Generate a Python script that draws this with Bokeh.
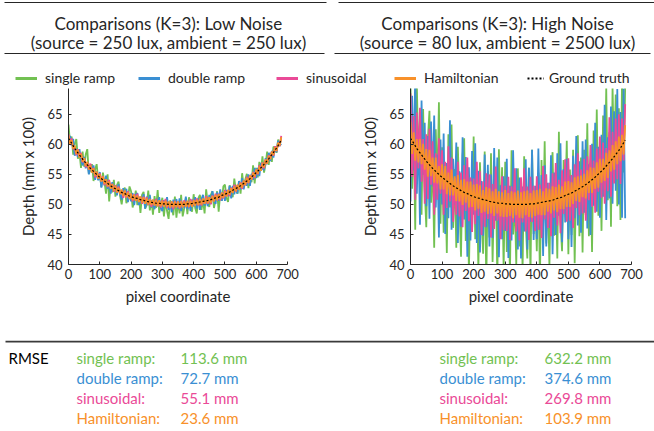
from bokeh.plotting import figure
from bokeh.models import Range1d, Legend, LegendItem, FixedTicker
from bokeh.layouts import column, row
from bokeh.embed import file_html
from bokeh.resources import INLINE
from bokeh.core.properties import value

FONT = "Lato"
INK = "#262626"
NAN = float("nan")

# ---------------- data ----------------
gt_pixel = list(range(0, 681, 10))
ground_truth = [61.0, 60.2, 59.3, 58.6, 57.9, 57.2, 56.6, 56.0, 55.5, 55.0,
                54.5, 54.1, 53.7, 53.3, 52.9, 52.6, 52.3, 52.0, 51.8, 51.5,
                51.3, 51.1, 51.0, 50.8, 50.7, 50.5, 50.4, 50.3, 50.2, 50.2,
                50.1, 50.1, 50.0, 50.0, 50.0, 50.0, 50.0, 50.0, 50.1, 50.1,
                50.2, 50.3, 50.4, 50.5, 50.6, 50.7, 50.9, 51.1, 51.2, 51.5,
                51.7, 51.9, 52.2, 52.5, 52.8, 53.1, 53.5, 53.9, 54.3, 54.8,
                55.3, 55.8, 56.4, 57.0, 57.6, 58.3, 59.0, 59.8, 60.7]

pixel = list(range(0, 681, 5))

low_single = [63.3, 60.2, 61.3, 58.3, 60.1, 60.9, 57.6, 58.6, 56.1, 58.8,
              56.3, 58.3, 59.2, 55.1, 55.7, 56.7, 53.9, 55.8, 56.7, 54.1,
              55.1, 52.9, 55.3, 53.7, 51.8, 55.0, 50.5, 53.5, 52.0, 54.1,
              51.3, 53.2, 53.8, 51.4, 50.0, 52.1, 52.8, 50.2, 51.1, 53.0,
              52.2, 49.5, 50.6, 52.3, 49.9, 51.3, 48.6, 51.6, 52.1, 49.3,
              49.9, 52.3, 49.0, 50.7, 48.3, 51.4, 49.4, 52.4, 48.6, 50.0,
              51.1, 48.0, 50.6, 48.9, 47.6, 50.7, 49.7, 48.2, 51.3, 47.8,
              50.4, 48.5, 51.6, 48.0, 49.4, 51.0, 48.4, 51.2, 49.7, 48.8,
              51.7, 49.4, 48.5, 51.0, 51.6, 49.1, 50.7, 48.5, 52.5, 50.2,
              49.6, 51.6, 52.2, 49.4, 50.8, 52.2, 48.8, 51.9, 50.6, 53.0,
              53.3, 51.1, 50.4, 53.2, 52.5, 51.2, 54.3, 52.3, 51.8, 53.9,
              51.8, 55.2, 52.9, 54.1, 55.1, 52.7, 54.9, 53.7, 56.5, 53.5,
              56.1, 54.5, 57.1, 55.6, 58.0, 55.3, 56.7, 58.8, 56.6, 58.6,
              57.1, 59.6, 59.5, 58.6, 60.8, 59.7, 61.2]
low_double = [60.0, 61.4, 59.8, 60.9, 58.1, 59.3, 57.9, 59.2, 57.4, 56.5,
              57.9, 56.0, 57.0, 55.0, 56.6, 55.6, 56.5, 54.1, 55.5, 54.0,
              55.4, 52.8, 54.4, 53.2, 54.8, 52.6, 53.5, 51.8, 53.7, 52.4,
              53.2, 51.5, 53.4, 51.7, 50.8, 52.7, 51.5, 52.6, 50.4, 51.8,
              50.5, 51.9, 49.9, 51.6, 51.9, 49.9, 51.1, 50.2, 51.7, 49.3,
              51.3, 49.9, 51.6, 49.5, 50.7, 49.2, 50.9, 49.9, 51.2, 49.4,
              48.9, 50.7, 49.7, 51.2, 49.1, 50.3, 48.7, 50.8, 49.5, 50.9,
              49.3, 51.0, 48.9, 50.4, 49.4, 51.3, 49.2, 50.6, 48.9, 50.8,
              49.7, 51.2, 49.3, 51.0, 49.1, 50.9, 51.6, 49.8, 50.9, 49.7,
              51.6, 50.1, 52.2, 50.6, 50.1, 52.0, 50.6, 52.5, 50.6, 52.1,
              50.6, 52.4, 51.4, 53.1, 51.0, 53.1, 51.7, 53.1, 51.8, 53.9,
              52.5, 54.4, 52.5, 54.0, 53.1, 55.0, 53.1, 55.1, 54.1, 56.1,
              54.4, 56.1, 54.7, 56.9, 56.0, 55.7, 57.7, 56.7, 58.6, 57.2,
              58.9, 57.8, 59.4, 58.7, 60.6, 59.8, 60.1]
low_sinus = [61.7, 60.1, 61.0, 59.2, 59.6, 58.2, 59.2, 58.0, 58.6, 57.0,
             57.7, 56.2, 57.0, 55.8, 56.8, 55.4, 56.1, 54.5, 55.3, 54.3,
             55.2, 53.9, 54.7, 53.2, 54.1, 52.9, 54.1, 52.8, 53.4, 52.1,
             53.2, 52.0, 53.0, 51.8, 52.3, 51.1, 52.3, 51.1, 52.2, 51.1,
             51.7, 50.5, 51.7, 50.6, 51.8, 50.5, 51.3, 50.1, 51.3, 50.1,
             51.2, 49.9, 50.8, 49.6, 50.8, 49.9, 50.9, 49.7, 50.5, 49.5,
             50.7, 49.6, 50.9, 49.4, 50.4, 49.4, 50.5, 49.2, 50.6, 49.6,
             50.5, 49.3, 50.6, 49.6, 50.7, 49.6, 50.5, 49.5, 50.9, 49.6,
             50.8, 49.9, 51.0, 49.8, 50.9, 49.8, 50.9, 50.1, 51.4, 50.1,
             51.2, 50.0, 51.5, 50.6, 51.8, 50.7, 51.8, 50.7, 51.9, 51.0,
             52.4, 51.3, 52.4, 51.4, 52.8, 52.0, 53.3, 52.1, 53.2, 52.5,
             53.7, 52.6, 53.9, 53.2, 54.6, 53.5, 54.8, 54.2, 55.4, 54.4,
             55.8, 55.0, 56.5, 55.7, 57.0, 56.0, 57.4, 56.8, 58.2, 57.6,
             58.8, 58.1, 59.7, 58.9, 60.2, 59.7, 61.4]
low_hamil = [61.5, 60.1, 60.7, 59.3, 59.8, 58.4, 59.1, 57.8, 58.4, 57.1,
             57.7, 56.4, 57.1, 55.8, 56.5, 55.3, 56.0, 54.8, 55.5, 54.3,
             55.0, 53.8, 54.6, 53.4, 54.2, 53.0, 53.8, 52.6, 53.4, 52.3,
             53.1, 52.0, 52.8, 51.7, 52.5, 51.4, 52.3, 51.2, 52.0, 50.9,
             51.8, 50.7, 51.6, 50.6, 51.5, 50.4, 51.3, 50.3, 51.2, 50.1,
             51.0, 50.0, 50.9, 49.9, 50.8, 49.8, 50.7, 49.7, 50.7, 49.7,
             50.6, 49.6, 50.6, 49.6, 50.5, 49.5, 50.5, 49.5, 50.5, 49.5,
             50.5, 49.5, 50.5, 49.5, 50.5, 49.6, 50.6, 49.6, 50.6, 49.6,
             50.7, 49.8, 50.8, 49.9, 50.9, 50.0, 51.0, 50.1, 51.1, 50.2,
             51.2, 50.3, 51.4, 50.5, 51.6, 50.7, 51.7, 50.9, 52.0, 51.1,
             52.2, 51.3, 52.4, 51.6, 52.7, 51.9, 53.0, 52.2, 53.3, 52.5,
             53.6, 52.8, 54.0, 53.2, 54.4, 53.6, 54.8, 54.1, 55.3, 54.6,
             55.8, 55.1, 56.3, 55.6, 56.9, 56.2, 57.5, 56.8, 58.1, 57.5,
             58.8, 58.2, 59.5, 58.9, 60.3, 59.8, 61.2]

high_single = [70.0, 52.6, 63.2, 45.8, 70.3, 57.0, 64.6, 48.3, 65.9, 52.6,
               46.2, 60.9, 65.6, 50.3, 58.0, 42.8, 62.5, 52.3, 67.0, 46.8,
               59.5, 45.3, 55.1, 41.9, 61.7, 49.5, 63.3, 46.1, 55.9, 42.8,
               59.6, 50.5, 41.3, 58.2, 61.0, 43.9, 55.8, 38.7, 53.5, 45.4,
               61.3, 44.2, 54.1, 39.1, 57.0, 47.9, 41.8, 58.8, 36.7, 55.6,
               44.5, 58.5, 40.4, 52.4, 55.3, 37.3, 59.2, 46.2, 56.2, 39.2,
               57.1, 42.1, 53.1, 38.1, 59.0, 45.0, 51.0, 40.0, 56.0, 43.0,
               54.0, 39.0, 58.0, 47.0, 41.0, 56.1, 38.1, 59.1, 45.1, 52.1,
               42.2, 55.3, 37.3, 57.4, 46.4, 60.5, 43.5, 52.6, 39.6, 54.7,
               58.7, 44.8, 53.9, 41.0, 62.1, 47.2, 42.2, 57.4, 49.5, 60.6,
               41.7, 55.8, 44.9, 59.1, 40.2, 55.4, 61.5, 44.7, 57.8, 42.0,
               59.1, 48.3, 63.5, 44.7, 56.9, 42.1, 62.3, 50.6, 65.8, 48.1,
               59.3, 45.6, 64.8, 53.1, 69.4, 50.7, 62.0, 46.3, 69.6, 56.0,
               68.3, 49.7, 66.0, 47.4, 70.8, 55.3, 69.7]
high_double = [50.5, 68.1, 55.7, 71.8, 51.8, 62.0, 46.6, 67.3, 54.9, 63.6,
               49.7, 61.4, 47.6, 63.8, 53.0, 64.8, 49.5, 58.3, 44.5, 60.8,
               50.0, 61.8, 45.1, 56.9, 47.7, 64.0, 45.8, 57.6, 49.9, 60.3,
               43.6, 55.5, 46.3, 61.2, 47.5, 57.9, 41.3, 56.2, 44.0, 58.9,
               48.3, 60.2, 43.6, 55.6, 42.0, 53.9, 44.8, 58.3, 46.2, 56.6,
               43.0, 55.0, 44.4, 59.4, 47.3, 57.8, 41.2, 53.2, 44.2, 54.7,
               45.6, 57.6, 41.1, 53.1, 44.0, 59.0, 47.0, 56.0, 42.5, 54.5,
               41.0, 53.0, 45.5, 57.5, 42.5, 56.1, 47.1, 59.1, 44.1, 53.1,
               44.2, 59.3, 45.8, 54.9, 41.4, 56.5, 43.0, 53.6, 46.1, 58.2,
               41.7, 55.3, 44.9, 58.5, 48.1, 60.2, 43.7, 55.9, 47.0, 57.6,
               44.2, 54.8, 42.9, 58.1, 47.7, 61.4, 46.5, 57.2, 45.3, 60.5,
               48.6, 60.8, 46.0, 56.7, 44.9, 60.1, 49.8, 63.6, 48.8, 59.6,
               47.8, 61.6, 51.3, 66.6, 47.4, 61.2, 51.0, 66.3, 50.1, 65.5,
               52.3, 69.2, 50.0, 65.4, 47.8, 69.3, 47.7]
high_sinus = [68.5, 54.6, 64.7, 50.8, 65.3, 56.0, 66.1, 53.8, 60.9, 50.1,
              61.7, 50.9, 62.6, 53.3, 60.5, 48.3, 58.5, 50.8, 61.0, 51.8,
              59.0, 48.3, 57.1, 49.4, 59.7, 50.5, 57.8, 47.1, 54.4, 48.3,
              57.1, 48.0, 55.3, 46.2, 56.5, 48.9, 57.8, 47.2, 54.5, 45.4,
              54.3, 46.7, 57.1, 48.1, 55.5, 44.9, 53.8, 46.3, 55.2, 47.6,
              55.0, 44.5, 53.4, 45.9, 56.3, 47.3, 51.7, 44.2, 54.7, 45.7,
              53.1, 45.6, 54.6, 44.1, 53.0, 47.0, 56.0, 45.5, 51.5, 44.0,
              54.5, 47.0, 56.0, 45.5, 53.0, 44.1, 54.6, 47.1, 53.1, 45.6,
              54.7, 45.8, 53.3, 44.4, 56.4, 47.5, 55.0, 46.1, 53.6, 44.7,
              55.2, 47.8, 56.9, 46.5, 54.1, 45.2, 55.7, 48.4, 57.5, 47.1,
              57.7, 47.3, 54.9, 46.1, 56.7, 49.4, 58.5, 48.2, 55.8, 48.5,
              57.6, 47.3, 58.0, 50.7, 59.9, 49.6, 57.3, 48.6, 59.3, 52.1,
              61.3, 51.1, 60.3, 50.1, 59.4, 52.2, 64.5, 51.3, 62.1, 53.5,
              64.3, 54.2, 65.0, 53.4, 64.3, 57.3, 66.7]
high_hamil = [63.7, 58.4, 62.0, 57.3, 60.9, 57.0, 60.9, 56.7, 60.1, 55.8,
              59.2, 54.6, 59.1, 54.7, 57.8, 53.6, 57.8, 53.5, 56.4, 52.5,
              56.7, 52.5, 56.4, 51.7, 55.3, 51.5, 55.8, 51.5, 54.7, 50.6,
              54.9, 50.5, 54.1, 49.9, 54.2, 50.3, 53.8, 49.5, 53.8, 49.6,
              53.3, 49.0, 53.4, 49.3, 53.2, 48.6, 52.4, 48.8, 52.9, 48.4,
              52.7, 48.5, 52.2, 48.1, 52.6, 48.5, 52.2, 48.0, 52.0, 47.9,
              52.4, 47.9, 51.9, 48.1, 52.2, 47.7, 52.0, 48.2, 52.3, 47.8,
              52.0, 47.7, 52.2, 48.2, 52.3, 47.9, 51.9, 47.8, 52.3, 48.1,
              52.4, 48.3, 52.6, 48.2, 52.2, 48.2, 52.7, 48.8, 52.6, 48.5,
              53.0, 49.0, 52.9, 48.7, 53.3, 49.2, 53.0, 49.2, 53.8, 49.6,
              53.9, 49.6, 53.7, 50.1, 54.5, 50.6, 54.7, 50.4, 54.8, 51.2,
              55.1, 51.0, 55.7, 51.9, 56.2, 51.9, 56.1, 52.6, 57.0, 52.8,
              57.6, 53.6, 57.6, 53.9, 58.6, 54.4, 59.0, 55.5, 59.9, 55.8,
              60.5, 56.7, 61.3, 57.2, 61.6, 58.3, 63.2]

methods = ["single ramp", "double ramp", "sinusoidal", "Hamiltonian"]
colors = ["#72c152", "#3a8fd3", "#ea4a97", "#f8912a"]
rmse_low = [113.6, 72.7, 55.1, 23.6]
rmse_high = [632.2, 374.6, 269.8, 103.9]
titles = ["Comparisons (K=3): Low Noise", "Comparisons (K=3): High Noise"]
subtitles = ["(source = 250 lux, ambient = 250 lux)",
             "(source = 80 lux, ambient = 2500 lux)"]
x_ticks = [0, 100, 200, 300, 400, 500, 600, 700]
y_ticks = [40, 45, 50, 55, 60, 65]


def blank(width, height, y0, y1):
    f = figure(width=width, height=height, x_range=Range1d(0, width),
               y_range=Range1d(y0, y1), output_backend="svg",
               toolbar_location=None, x_axis_location=None,
               y_axis_location=None, min_border=0, outline_line_color=None)
    f.grid.visible = False
    return f


# ---------------- header: titles + legend ----------------
header = blank(654, 88, 88, 0)
header.segment(x0=[4, 4, 338, 334], y0=[2, 53, 2, 53],
               x1=[326, 324, 654, 650], y1=[2, 53, 2, 53],
               line_color=INK, line_width=1.2)
header.text(x=[168, 168, 497, 497], y=[23, 42, 23, 42],
            text=[titles[0], subtitles[0], titles[1], subtitles[1]],
            text_align="center", text_baseline="middle",
            text_font=value(FONT), text_font_size="17px", text_color=INK)

# legend-only renderers (no visible data)
leg_renderers = [header.line([0, 1], [NAN, NAN], line_color=c, line_width=3)
                 for c in colors]
gt_r = header.line([0, 1], [NAN, NAN], line_color="black", line_width=2,
                   line_dash="2 2")
leg_labels = methods + ["Ground truth"]
leg_x = [15, 138, 276, 394, 527]
for lab, r, lx in zip(leg_labels, leg_renderers + [gt_r], leg_x):
    lg = Legend(items=[LegendItem(label=lab, renderers=[r])], location=(lx, 2),
                orientation="horizontal",
                glyph_width=22 if lab != "Ground truth" else 17,
                glyph_height=16, label_height=16,
                label_standoff=8 if lab != "Ground truth" else 5,
                padding=0, margin=0, spacing=0, border_line_color=None,
                background_fill_alpha=0, label_text_font=FONT,
                label_text_font_size="14px", label_text_color=INK,
                label_text_baseline="middle")
    header.add_layout(lg)


# ---------------- panels ----------------
def panel(series, width, bl, br):
    p = figure(width=width, height=252, x_range=Range1d(0, 700),
               y_range=Range1d(40, 69.3), output_backend="svg",
               toolbar_location=None, min_border_left=bl, min_border_right=br,
               min_border_top=0, min_border_bottom=76, outline_line_color=None)
    p.grid.visible = False
    for ys, c in zip(series, colors):
        p.line(pixel, ys, line_color=c, line_width=1.8)
    p.line(gt_pixel, ground_truth, line_color="black", line_width=1.2,
           line_dash="2 2")
    p.xaxis.ticker = FixedTicker(ticks=x_ticks)
    p.yaxis.ticker = FixedTicker(ticks=y_ticks)
    p.xaxis.axis_label = "pixel coordinate"
    p.yaxis.axis_label = "Depth (mm x 100)"
    for ax in p.axis:
        ax.axis_line_color = INK
        ax.major_tick_line_color = INK
        ax.major_tick_in = 3
        ax.major_tick_out = 0
        ax.minor_tick_line_color = None
        ax.major_label_text_font = FONT
        ax.major_label_text_font_size = "13px"
        ax.major_label_text_color = INK
        ax.axis_label_text_font = FONT
        ax.axis_label_text_font_size = "15px"
        ax.axis_label_text_font_style = "normal"
        ax.axis_label_text_color = INK
    p.xaxis.major_label_standoff = 4
    p.yaxis.major_label_standoff = 6
    p.xaxis.axis_label_standoff = 5
    p.yaxis.axis_label_standoff = 7
    return p


p1 = panel([low_single, low_double, low_sinus, low_hamil], 330, 68, 43)
p2 = panel([high_single, high_double, high_sinus, high_hamil], 324, 80, 23)

# ---------------- footer: RMSE ----------------
footer = blank(654, 91, 431, 340)
footer.segment(x0=[5], y0=[341], x1=[654], y1=[341], line_color="#3a3a3a",
               line_width=2)
row_y = [357 + 20 * i for i in range(len(methods))]
footer.text(x=[8], y=[357], text=["RMSE"], text_baseline="middle",
            text_font=value(FONT), text_font_size="15px", text_color="black")
for lx, vx, vals in [(76, 180, rmse_low), (439, 544, rmse_high)]:
    footer.text(x=[lx] * 4, y=row_y, text=[m + ":" for m in methods],
                text_color=colors, text_baseline="middle",
                text_font=value(FONT), text_font_size="15px")
    footer.text(x=[vx] * 4, y=row_y, text=[f"{v:.1f} mm" for v in vals],
                text_color=colors, text_baseline="middle",
                text_font=value(FONT), text_font_size="15px")

layout = column(header, row(p1, p2), footer)
open("out.html", "w").write(file_html(layout, INLINE))
